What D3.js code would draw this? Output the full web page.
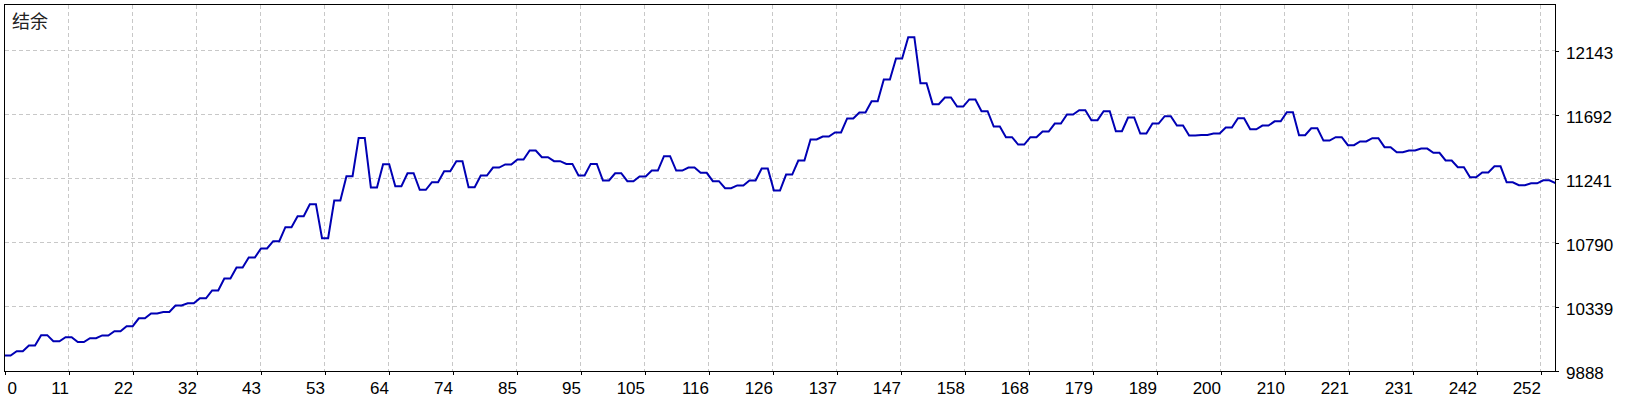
<!DOCTYPE html>
<html>
<head>
<meta charset="utf-8">
<script src="https://cdn.jsdelivr.net/npm/d3@7/dist/d3.min.js"></script>
<style>
  html, body { margin: 0; padding: 0; background: #ffffff; }
  svg { display: block; }
</style>
</head>
<body>
<svg id="chart" width="1640" height="400"></svg>
<script>
const title = "结余";
const xTickLabels = ["0","11","22","32","43","53","64","74","85","95","105","116","126","137","147","158","168","179","189","200","210","221","231","242","252"];
const yTickValues = [9888, 10339, 10790, 11241, 11692, 12143];
const balance = [
9994,9994, 10024,10024, 10064,10064, 10137,10137, 10094,10094, 10123,10123, 10088,10088, 10116,10116, 10135,10135, 10165,10165,
10200,10200, 10256,10256, 10290,10290, 10300,10300, 10346,10346, 10362,10362, 10397,10397, 10452,10452, 10536,10536, 10614,10614,
10684,10684, 10748,10748, 10799,10799, 10898,10898, 10975,10975, 11060,11060, 10820,10820, 11086,11086, 11257,11257, 11527,11527,
11178,11178, 11342,11342, 11187,11187, 11278,11278, 11161,11161, 11215,11215, 11292,11292, 11363,11363, 11180,11180, 11262,11262,
11318,11318, 11340,11340, 11375,11375, 11438,11438, 11391,11391, 11363,11363, 11344,11344, 11262,11262, 11344,11344, 11227,11227,
11278,11278, 11222,11222, 11255,11255, 11297,11297, 11398,11398, 11297,11297, 11318,11318, 11281,11281, 11222,11222, 11173,11173,
11192,11192, 11227,11227, 11312,11312, 11156,11156, 11269,11269, 11368,11368, 11516,11516, 11537,11537, 11565,11565, 11664,11664,
11706,11706, 11786,11786, 11939,11939, 12087,12087, 12237,12237, 11913,11913, 11765,11765, 11812,11812, 11748,11748, 11798,11798,
11715,11715, 11607,11607, 11532,11532, 11480,11480, 11532,11532, 11572,11572, 11628,11628, 11692,11692, 11722,11722, 11652,11652,
11715,11715, 11574,11574, 11671,11671, 11558,11558, 11628,11628, 11680,11680, 11614,11614, 11544,11544, 11548,11548, 11558,11558,
11600,11600, 11666,11666, 11588,11588, 11614,11614, 11644,11644, 11708,11708, 11546,11546, 11595,11595, 11508,11508, 11532,11532,
11476,11476, 11502,11502, 11525,11525, 11462,11462, 11426,11426, 11438,11438, 11452,11452, 11422,11422, 11368,11368, 11320,11320,
11250,11250, 11284,11284, 11327,11327, 11214,11214, 11194,11194, 11207,11207, 11228,11228, 11208
];

// layout
const L = 4.5, T = 4.5, R = 1555.5, B = 371.5;
const GRID_PX = 64;
const NUM_FONT = "'Liberation Sans', Arial, sans-serif";

const svg = d3.select("#chart");
svg.append("rect").attr("width", 1640).attr("height", 400).attr("fill", "#ffffff");

const x = d3.scaleLinear().domain([0, balance.length - 1]).range([L, R]);
const y = d3.scaleLinear().domain([yTickValues[0], yTickValues[1]]).range([B - 1, B - 1 - GRID_PX]);

// x grid positions (in index units) spaced GRID_PX apart
const gridStep = x.invert(L + GRID_PX) - x.invert(L);
const xTickVals = xTickLabels.map((d, i) => i * gridStep);

// gridlines
const grid = svg.append("g").attr("stroke", "#c8c8c8").attr("stroke-width", 1).attr("stroke-dasharray", "4,3").attr("shape-rendering", "crispEdges");
grid.selectAll("line.v").data(xTickVals.slice(1)).enter().append("line")
  .attr("x1", d => Math.round(x(d) - 0.5) + 0.5).attr("x2", d => Math.round(x(d) - 0.5) + 0.5)
  .attr("y1", T).attr("y2", B);
grid.selectAll("line.h").data(yTickValues.slice(1)).enter().append("line")
  .attr("y1", d => Math.round(y(d) - 0.5) + 0.5).attr("y2", d => Math.round(y(d) - 0.5) + 0.5)
  .attr("x1", L).attr("x2", R);

// clip
svg.append("clipPath").attr("id", "plotclip").append("rect")
  .attr("x", L).attr("y", T).attr("width", R - L).attr("height", B - T);

// balance line
const line = d3.line().x((d, i) => x(i)).y(d => y(d));
svg.append("path").datum(balance)
  .attr("clip-path", "url(#plotclip)")
  .attr("d", line)
  .attr("fill", "none")
  .attr("stroke", "#0000b4")
  .attr("stroke-width", 2)
  .attr("stroke-linejoin", "miter");

// frame
svg.append("rect").attr("x", L).attr("y", T).attr("width", R - L).attr("height", B - T)
  .attr("fill", "none").attr("stroke", "#000").attr("stroke-width", 1).attr("shape-rendering", "crispEdges");

// x axis
const xAxis = d3.axisBottom(x).tickValues(xTickVals).tickFormat((d, i) => xTickLabels[i]).tickSize(3).tickPadding(0);
const gx = svg.append("g").attr("transform", `translate(0,${B})`).call(xAxis);
gx.select(".domain").remove();
gx.selectAll(".tick line").attr("stroke", "#000").attr("shape-rendering", "crispEdges");
gx.selectAll(".tick text")
  .attr("font-family", NUM_FONT).attr("font-size", 17).attr("fill", "#000")
  .attr("dy", null).attr("y", 22)
  .attr("text-anchor", (d, i) => i === 0 ? "start" : "end")
  .attr("x", (d, i) => i === 0 ? 2.5 : 0);

// y axis
const yAxis = d3.axisRight(y).tickValues(yTickValues).tickFormat(d3.format("d")).tickSize(3).tickPadding(0);
const gy = svg.append("g").attr("transform", `translate(${R},0)`).call(yAxis);
gy.select(".domain").remove();
gy.selectAll(".tick line").attr("stroke", "#000").attr("shape-rendering", "crispEdges");
gy.selectAll(".tick text")
  .attr("font-family", NUM_FONT).attr("font-size", 17).attr("fill", "#000")
  .attr("dy", null).attr("y", 8).attr("x", 10.5).attr("text-anchor", "start");

// title
svg.append("text").attr("x", 12).attr("y", 28)
  .attr("font-family", "'Noto Sans CJK SC', sans-serif").attr("font-size", 18)
  .attr("fill", "#222").text(title);
</script>
</body>
</html>
